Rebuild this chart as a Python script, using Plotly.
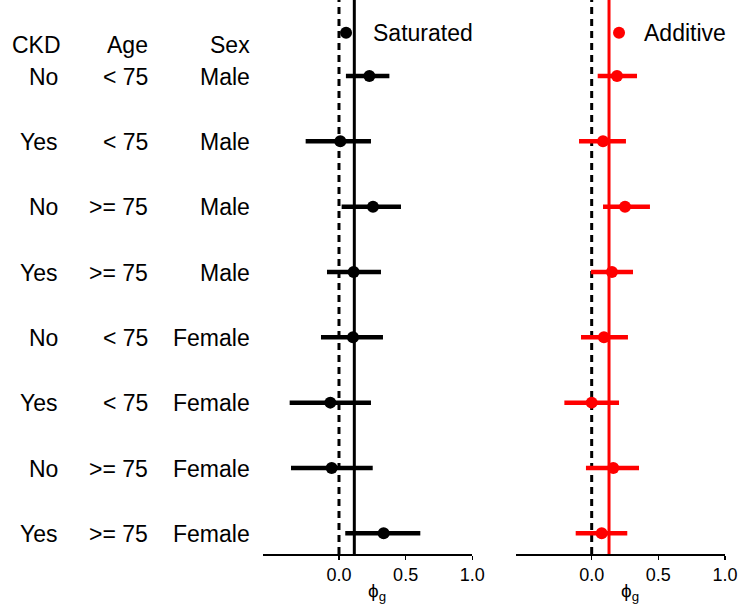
import plotly.graph_objects as go

# ---- data ----
ckd = ["No", "Yes", "No", "Yes", "No", "Yes", "No", "Yes"]
age = ["< 75", "< 75", ">= 75", ">= 75", "< 75", "< 75", ">= 75", ">= 75"]
sex = ["Male", "Male", "Male", "Male", "Female", "Female", "Female", "Female"]
rows = [1, 2, 3, 4, 5, 6, 7, 8]

sat_est = [0.228, 0.010, 0.255, 0.110, 0.105, -0.065, -0.055, 0.335]
sat_lo = [0.052, -0.250, 0.020, -0.090, -0.135, -0.370, -0.360, 0.047]
sat_hi = [0.378, 0.240, 0.465, 0.315, 0.330, 0.240, 0.253, 0.610]

add_est = [0.190, 0.085, 0.250, 0.152, 0.092, 0.000, 0.162, 0.075]
add_lo = [0.045, -0.095, 0.085, -0.005, -0.080, -0.205, -0.043, -0.120]
add_hi = [0.340, 0.257, 0.437, 0.310, 0.272, 0.205, 0.355, 0.267]

sat_ref = 0.115
add_ref = 0.130
null_ref = 0.0

tick_vals = [0.0, 0.5, 1.0]
tick_text = ["0.0", "0.5", "1.0"]

# ---- layout constants ----
W, H = 741, 605
FONT = "Liberation Sans, Arial, sans-serif"
XR = [-0.57, 1.0]
left_dom = [263 / W, 472.3 / W]
right_dom = [515.7 / W, 725 / W]
YR = [8.317, -0.163]
ydom = [(H - 554) / H, 1.0]
legend_row = 0.337

fig = go.Figure()

def panel(xa, est, lo, hi, color):
    fig.add_trace(go.Scatter(
        x=est, y=rows, xaxis=xa, yaxis="y", mode="markers",
        marker=dict(color=color, size=12, symbol="circle"),
        error_x=dict(type="data", symmetric=False,
                     array=[h - e for h, e in zip(hi, est)],
                     arrayminus=[e - l for e, l in zip(est, lo)],
                     color=color, thickness=4.5, width=0),
        showlegend=False, hoverinfo="skip"))

panel("x", sat_est, sat_lo, sat_hi, "black")
panel("x2", add_est, add_lo, add_hi, "#ff0000")

# legend keys
fig.add_trace(go.Scatter(x=[0.053], y=[legend_row], xaxis="x", yaxis="y",
                         mode="markers", marker=dict(color="black", size=12),
                         showlegend=False, hoverinfo="skip"))
fig.add_trace(go.Scatter(x=[0.205], y=[legend_row], xaxis="x2", yaxis="y",
                         mode="markers", marker=dict(color="#ff0000", size=12),
                         showlegend=False, hoverinfo="skip"))

shapes = []
for xr, refv, col in [("x", sat_ref, "black"), ("x2", add_ref, "#ff0000")]:
    shapes.append(dict(type="line", xref=xr, yref="y domain", x0=null_ref, x1=null_ref,
                       y0=0, y1=1, line=dict(color="black", width=3, dash="7px,5px"),
                       layer="below"))
    shapes.append(dict(type="line", xref=xr, yref="y domain", x0=refv, x1=refv,
                       y0=0, y1=1, line=dict(color=col, width=3), layer="below"))

annotations = []
tf = dict(family=FONT, size=23, color="black")
annotations.append(dict(text="Saturated", xref="x", yref="y", x=0.24, y=legend_row,
                        xanchor="left", yanchor="middle", showarrow=False, font=tf))
annotations.append(dict(text="Additive", xref="x2", yref="y", x=0.38, y=legend_row,
                        xanchor="left", yanchor="middle", showarrow=False, font=tf))

header_y = 1 - (76 - 45) / 65.33
for txt, xp in [("CKD", 63), ("Age", 150), ("Sex", 252)]:
    annotations.append(dict(text=txt, xref="paper", yref="y", x=xp / W, y=header_y,
                            xanchor="right", yanchor="middle", showarrow=False, font=tf))
for r, c, a, s in zip(rows, ckd, age, sex):
    for txt, xp in [(c, 60), (a, 150), (s, 252)]:
        annotations.append(dict(text=txt, xref="paper", yref="y", x=xp / W, y=r + 0.01,
                                xanchor="right", yanchor="middle", showarrow=False, font=tf))

for xr in ["x", "x2"]:
    annotations.append(dict(text="ϕ<sub>g</sub>", xref=xr, yref="paper", x=0.285,
                            y=(H - 592) / H, xanchor="center", yanchor="middle",
                            showarrow=False, font=dict(family=FONT, size=19, color="black")))

axis_common = dict(range=XR, showgrid=False, zeroline=False, showline=True,
                   linecolor="black", linewidth=1.5, ticks="outside", ticklen=4,
                   tickwidth=1.5, tickcolor="black", tickvals=tick_vals, ticktext=tick_text,
                   tickfont=dict(family=FONT, size=18, color="black"), anchor="y",
                   fixedrange=True)

fig.update_layout(
    width=W, height=H, margin=dict(l=0, r=0, t=0, b=0),
    paper_bgcolor="white", plot_bgcolor="white",
    xaxis=dict(domain=left_dom, automargin=False, **axis_common),
    xaxis2=dict(domain=right_dom, automargin=False, **axis_common),
    yaxis=dict(domain=ydom, range=YR, visible=False, fixedrange=True, automargin=False),
    shapes=shapes, annotations=annotations, showlegend=False,
)

fig.write_html("out.html", config={"displayModeBar": False, "staticPlot": True})
with open("out.html", "r", encoding="utf-8") as f:
    html = f.read()
html = html.replace("<body>", '<body style="margin:0;padding:0;overflow:hidden">', 1)
with open("out.html", "w", encoding="utf-8") as f:
    f.write(html)
